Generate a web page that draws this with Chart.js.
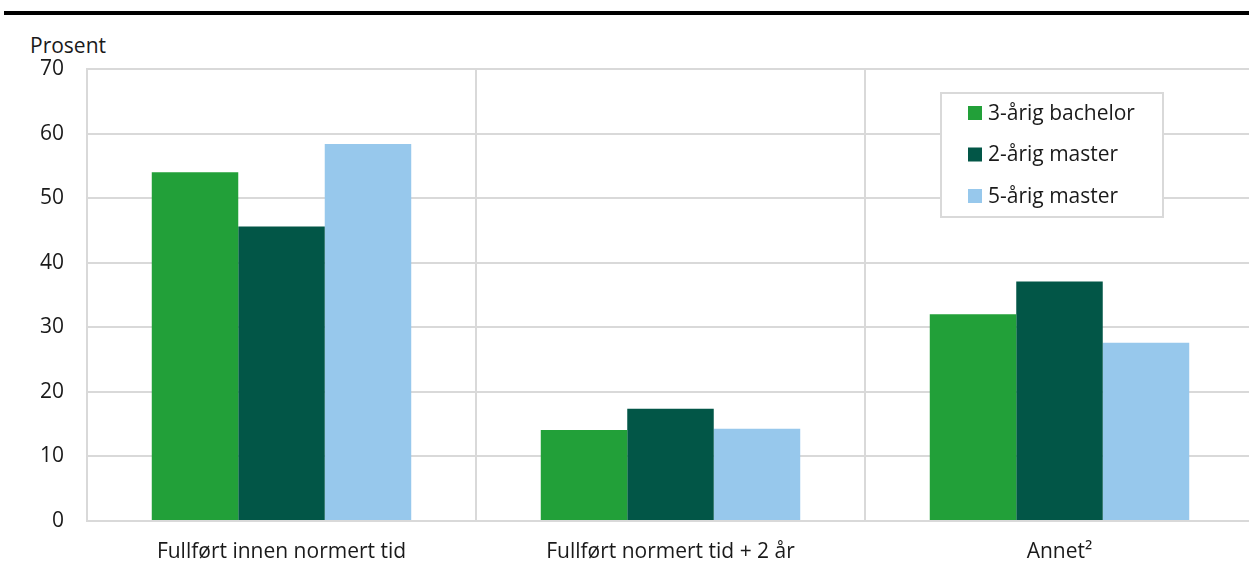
<!DOCTYPE html>
<html>
<head>
<meta charset="utf-8">
<script src="https://cdn.jsdelivr.net/npm/chart.js@4"></script>
<style>
    html, body { margin: 0; padding: 0; background: #fff; overflow: hidden; }
    #wrap { position: relative; width: 1249px; height: 568px; overflow: hidden; }
    #rule { position: absolute; left: 4px; right: 0; top: 11px; height: 4px; background: #000; }
    #unit { position: absolute; left: 30px; top: 31px; font: 21px 'Open Sans', sans-serif; color: #1a1a1a; }
    #chart { position: absolute; left: 0; top: 0; }
</style>
</head>
<body>
<div id="wrap">
    <div id="rule"></div>
    <div id="unit">Prosent</div>
    <canvas id="chart" width="1256" height="568"></canvas>
</div>
<script>
const categories = ['Fullført innen normert tid', 'Fullført normert tid + 2 år', 'Annet²']
const seriesNames = ['3-årig bachelor', '2-årig master', '5-årig master']
const bachelor3 = [54.0, 14.1, 32.0]
const master2 = [45.6, 17.4, 37.1]
const master5 = [58.4, 14.3, 27.6]
const yTicks = [0, 10, 20, 30, 40, 50, 60, 70]

const colors = ['#22a039', '#025647', '#97c8ec']
const gridColor = '#d9d9d9'
const textColor = '#1a1a1a'
const font = { family: "'Open Sans', sans-serif", size: 21 }

// Legend box drawn inside the plot area, top right
const boxLegend = {
    id: 'boxLegend',
    afterDraw(chart) {
        const ctx = chart.ctx
        const x = 941, y = 93, w = 222, h = 124
        ctx.save()
        ctx.fillStyle = '#fff'
        ctx.fillRect(x, y, w, h)
        ctx.strokeStyle = gridColor
        ctx.lineWidth = 2
        ctx.strokeRect(x, y, w, h)
        ctx.font = `${font.size}px ${font.family}`
        ctx.textBaseline = 'middle'
        chart.data.datasets.forEach((ds, i) => {
            const cy = 113 + i * 41.5
            ctx.fillStyle = ds.backgroundColor
            ctx.fillRect(968, cy - 7, 14, 14)
            ctx.fillStyle = textColor
            ctx.fillText(ds.label, 988, cy + 1)
        })
        ctx.restore()
    }
}

new Chart(document.getElementById('chart'), {
    type: 'bar',
    data: {
        labels: categories,
        datasets: [bachelor3, master2, master5].map((values, i) => ({
            label: seriesNames[i],
            data: values,
            backgroundColor: colors[i],
            barPercentage: 1,
            categoryPercentage: 0.667
        }))
    },
    options: {
        responsive: false,
        devicePixelRatio: 1,
        animation: false,
        layout: { padding: { top: 69, right: 2, left: 0, bottom: 0 } },
        plugins: {
            legend: { display: false },
            tooltip: { enabled: false }
        },
        scales: {
            x: {
                grid: { offset: true, color: gridColor, lineWidth: 2, drawTicks: false },
                border: { color: gridColor, width: 2 },
                ticks: { color: textColor, font: font, padding: 18, maxRotation: 0 },
                afterFit: (scale) => { scale.height = 47 }
            },
            y: {
                min: 0,
                max: 70,
                afterBuildTicks: (scale) => { scale.ticks = yTicks.map(v => ({ value: v })) },
                grid: { color: gridColor, lineWidth: 2, drawTicks: false },
                border: { color: gridColor, width: 2 },
                ticks: { color: textColor, font: font, padding: 23 },
                afterFit: (scale) => { scale.width = 87 }
            }
        }
    },
    plugins: [boxLegend]
})
</script>
</body>
</html>
